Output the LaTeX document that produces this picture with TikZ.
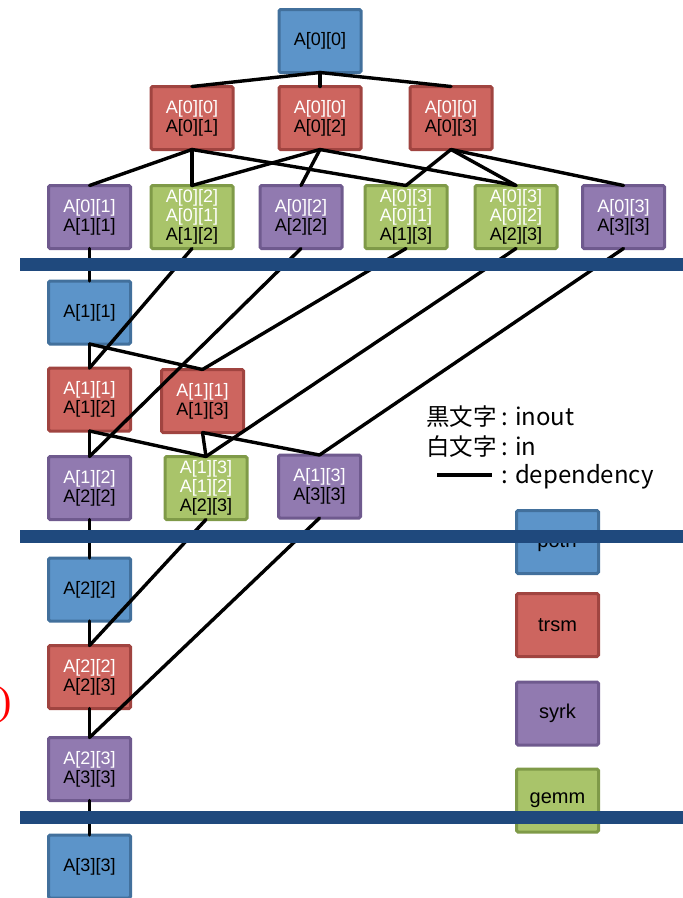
\documentclass[tikz,border=0pt]{standalone}
\usepackage{fontspec}
\setmainfont{Liberation Sans}
\newfontfamily\jpfont{Noto Sans CJK JP}
\newfontfamily\serfont{Liberation Serif}
\definecolor{potrfF}{RGB}{92,148,201}
\definecolor{potrfB}{RGB}{66,112,156}
\definecolor{trsmF}{RGB}{205,101,95}
\definecolor{trsmB}{RGB}{160,68,64}
\definecolor{syrkF}{RGB}{145,122,176}
\definecolor{syrkB}{RGB}{111,90,142}
\definecolor{gemmF}{RGB}{169,196,106}
\definecolor{gemmB}{RGB}{127,154,72}
\definecolor{barC}{RGB}{31,73,125}
\begin{document}
\begin{tikzpicture}[x=1pt,y=-1pt,
  box/.style={minimum width=82pt,minimum height=63pt,line width=3pt,inner sep=0pt,outer sep=0pt,
    align=center,font=\fontsize{18}{19}\selectfont,rounded corners=1.5pt},
  potrfbox/.style={box,draw=potrfB,fill=potrfF},
  trsmbox/.style={box,draw=trsmB,fill=trsmF},
  syrkbox/.style={box,draw=syrkB,fill=syrkF},
  gemmbox/.style={box,draw=gemmB,fill=gemmF},
  legbox/.style={font=\fontsize{20}{22}\selectfont},
  dep/.style={line width=3.4pt,draw=black,line cap=round},
  sepbar/.style={fill=barC},
  legjp/.style={anchor=base east,inner sep=0pt,font=\jpfont\fontsize{23.5}{26}\selectfont},
  legtext/.style={anchor=base west,inner sep=0pt,font=\jpfont\fontsize{24}{26}\selectfont}]
\useasboundingbox (0,0) rectangle (683,898);
\newcommand{\wt}[1]{\textcolor{white}{#1}}
% row 1
\node[potrfbox] (p00) at (320,41) {A[0][0]};
% row 2
\node[trsmbox] (t01) at (192,118) {\wt{A[0][0]}\\A[0][1]};
\node[trsmbox] (t02) at (320,118) {\wt{A[0][0]}\\A[0][2]};
\node[trsmbox] (t03) at (451,118) {\wt{A[0][0]}\\A[0][3]};
% row 3
\node[syrkbox] (s11) at (89.5,217) {\wt{A[0][1]}\\A[1][1]};
\node[gemmbox] (g12) at (192,217) {\wt{A[0][2]}\\\wt{A[0][1]}\\A[1][2]};
\node[syrkbox] (s22) at (301,217) {\wt{A[0][2]}\\A[2][2]};
\node[gemmbox] (g13) at (406,217) {\wt{A[0][3]}\\\wt{A[0][1]}\\A[1][3]};
\node[gemmbox] (g23) at (516,217) {\wt{A[0][3]}\\\wt{A[0][2]}\\A[2][3]};
\node[syrkbox] (s33) at (623.5,217) {\wt{A[0][3]}\\A[3][3]};
% row 4
\node[potrfbox] (p11) at (89.5,312.5) {A[1][1]};
% row 5
\node[trsmbox] (t112) at (89.5,399.5) {\wt{A[1][1]}\\A[1][2]};
\node[trsmbox] (t113) at (202.5,401) {\wt{A[1][1]}\\A[1][3]};
% row 6
\node[syrkbox] (s1222) at (89.5,488) {\wt{A[1][2]}\\A[2][2]};
\node[gemmbox] (g1323) at (206,488) {\wt{A[1][3]}\\\wt{A[1][2]}\\A[2][3]};
\node[syrkbox] (s1333) at (319.5,486.5) {\wt{A[1][3]}\\A[3][3]};
% row 7-9
\node[potrfbox] (p22) at (89.5,589.5) {A[2][2]};
\node[trsmbox] (t2223) at (89.5,677) {\wt{A[2][2]}\\A[2][3]};
\node[syrkbox] (s2333) at (89.5,769) {\wt{A[2][3]}\\A[3][3]};
\node[potrfbox] (p33) at (89.5,866.5) {A[3][3]};
% legend boxes
\node[potrfbox,legbox] (lp) at (557.5,542) {potrf};
\node[trsmbox,legbox] (lt) at (557.5,625) {trsm};
\node[syrkbox,legbox] (ls) at (557.5,713.5) {syrk};
\node[gemmbox,legbox] (lg) at (557.5,800.5) {gemm};
% legend text
\node[legjp] (j1) at (497,425) {黒文字};
\node[legjp] (j2) at (497,455) {白文字};
\node[legtext] (k1) at (501,425) {: inout};
\node[legtext] (k2) at (501,455) {: in};
\node[legtext] (k3) at (501,483) {: dependency};
\coordinate (d1) at (437,475);
\coordinate (d2) at (492,475);
\draw[line width=3.8pt] (d1) -- (d2);
\node[text=red,font=\serfont\fontsize{40}{40}\selectfont,inner sep=0pt] (rp) at (5,705) {)};
% dependencies
\foreach \a/\b in {p00/t01,p00/t02,p00/t03,
  t01/s11,t01/g12,t01/g13,t02/g12,t02/s22,t02/g23,t03/g13,t03/g23,t03/s33,
  s11/p11,g12/t112,s22/s1222,g13/t113,g23/g1323,s33/s1333,
  p11/t112,p11/t113,t112/s1222,t112/g1323,t113/g1323,t113/s1333,
  s1222/p22,g1323/t2223,s1333/s2333,p22/t2223,t2223/s2333,s2333/p33}
  \draw[dep] (\a.south) -- (\b.north);
% separator bars
\fill[sepbar] (20,257.5) rectangle (683,270.5);
\fill[sepbar] (20,530) rectangle (683,543);
\fill[sepbar] (20,810.5) rectangle (683,823.5);
\end{tikzpicture}
\end{document}
